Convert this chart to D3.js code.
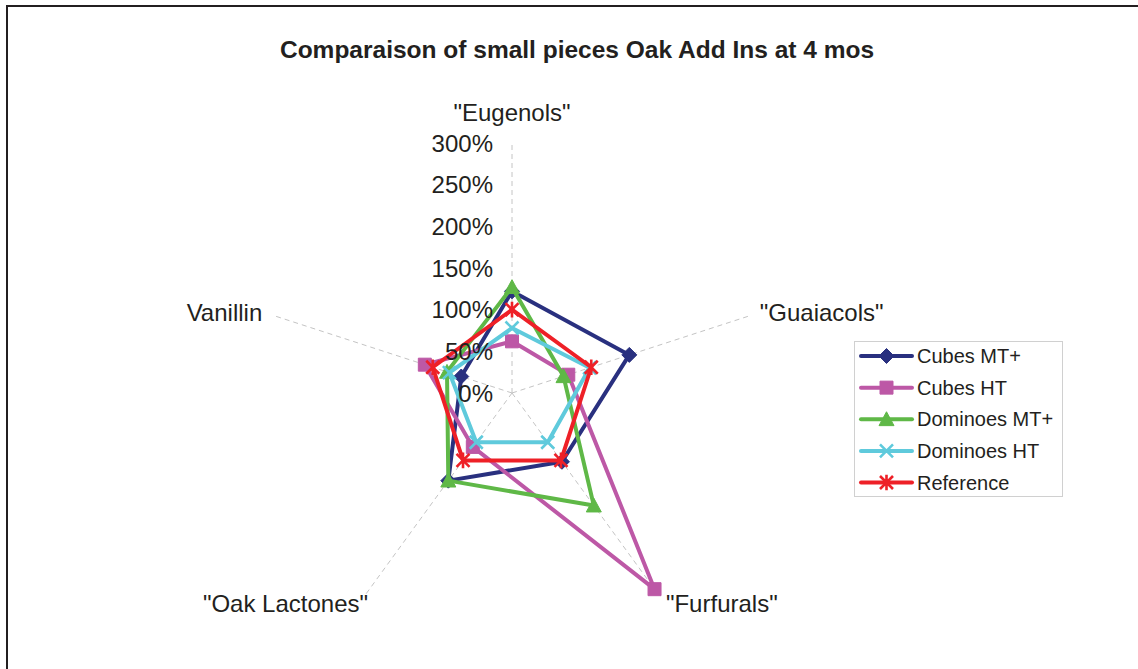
<!DOCTYPE html>
<html>
<head>
<meta charset="utf-8">
<script src="https://cdn.jsdelivr.net/npm/d3@7"></script>
<style>
  body { margin: 0; background: #fff; }
  svg { display: block; font-family: "Liberation Sans", Arial, sans-serif; }
</style>
</head>
<body>
<svg width="1138" height="669"></svg>
<script>
'use strict';

// data (1 = 100%)
const categories = ['"Eugenols"', '"Guaiacols"', '"Furfurals"', '"Oak Lactones"', 'Vanillin'];
const seriesNames = ["Cubes MT+", "Cubes HT", "Dominoes MT+", "Dominoes HT", "Reference"];
const cubesMT = [1.22, 1.48, 1.02, 1.30, 0.64];
const cubesHT = [0.62, 0.71, 2.91, 0.80, 1.10];
const dominoesMT = [1.27, 0.65, 1.67, 1.30, 0.82];
const dominoesHT = [0.78, 0.98, 0.73, 0.73, 0.79];
const reference = [1.00, 1.00, 1.00, 1.00, 1.00];
const tickValues = [0, 0.5, 1, 1.5, 2, 2.5, 3];

const seriesValues = [cubesMT, cubesHT, dominoesMT, dominoesHT, reference];
const colors = ["#29307f", "#bd58a6", "#5fb847", "#5fcadc", "#ee2027"];
const markers = ["diamond", "square", "triangle", "x", "star"];

const W = 1138, H = 669;
const cx = 512, cy = 393, R = 250;

const svg = d3.select("svg");

// frame (only left and top edges visible)
svg.append("line").attr("x1", 7).attr("y1", 5).attr("x2", 7).attr("y2", H)
  .attr("stroke", "#231f20").attr("stroke-width", 2);
svg.append("line").attr("x1", 6).attr("y1", 6).attr("x2", W).attr("y2", 6)
  .attr("stroke", "#231f20").attr("stroke-width", 2);

// title
svg.append("text")
  .attr("x", 577).attr("y", 58)
  .attr("text-anchor", "middle")
  .style("font-size", "24.5px")
  .style("font-weight", "bold")
  .attr("fill", "#231f20")
  .text("Comparaison of small pieces Oak Add Ins at 4 mos");

const r = d3.scaleLinear().domain([0, 3]).range([0, R]);
const angle = d3.scaleLinear().domain([0, categories.length]).range([-Math.PI / 2, 1.5 * Math.PI]);

const pt = (i, v) => [cx + r(v) * Math.cos(angle(i)), cy + r(v) * Math.sin(angle(i))];

const g = svg.append("g");

// spokes
g.selectAll(".spoke")
  .data(categories)
  .enter()
  .append("line")
  .attr("x1", cx).attr("y1", cy)
  .attr("x2", (d, i) => pt(i, 3)[0])
  .attr("y2", (d, i) => pt(i, 3)[1])
  .attr("stroke", "#c4c4c4")
  .attr("stroke-width", 1)
  .attr("stroke-dasharray", "5,4");

// marker shapes
function markerPath(type, s) {
  switch (type) {
    case "diamond": return `M0,${-s}L${s},0L0,${s}L${-s},0Z`;
    case "square": return `M${-s},${-s}H${s}V${s}H${-s}Z`;
    case "triangle": return `M0,${-s}L${s},${s * 0.85}L${-s},${s * 0.85}Z`;
    case "x": return `M${-s},${-s}L${s},${s}M${s},${-s}L${-s},${s}`;
    case "star": return `M${-s},${-s}L${s},${s}M${s},${-s}L${-s},${s}M0,${-s * 1.2}V${s * 1.2}`;
  }
}
const markerSize = { diamond: 7.5, square: 6.5, triangle: 7.5, x: 6.5, star: 6.5 };
const stroked = t => t === "x" || t === "star";

function drawMarker(sel, type, color) {
  sel.append("path")
    .attr("d", markerPath(type, markerSize[type]))
    .attr("fill", stroked(type) ? "none" : color)
    .attr("stroke", color)
    .attr("stroke-width", stroked(type) ? 2.6 : 1);
}

const line = d3.line().curve(d3.curveLinearClosed);

seriesValues.forEach((vals, s) => {
  const pts = vals.map((v, i) => pt(i, v));
  g.append("path")
    .attr("d", line(pts))
    .attr("fill", "none")
    .attr("stroke", colors[s])
    .attr("stroke-width", 4)
    .attr("stroke-linejoin", "round");
  pts.forEach(p => {
    const m = g.append("g").attr("transform", `translate(${p[0]},${p[1]})`);
    drawMarker(m, markers[s], colors[s]);
  });
});

// radial tick labels
svg.selectAll(".tick")
  .data(tickValues)
  .enter()
  .append("text")
  .attr("x", cx - 19)
  .attr("y", d => cy - r(d))
  .attr("dy", "0.36em")
  .attr("text-anchor", "end")
  .style("font-size", "24px")
  .attr("fill", "#231f20")
  .text(d => d3.format(".0%")(d));

// category labels
svg.selectAll(".cat")
  .data(categories)
  .enter()
  .append("text")
  .each(function(d, i) {
    const a = angle(i);
    const [ex, ey] = pt(i, 3);
    const c = Math.cos(a), s = Math.sin(a);
    const t = d3.select(this);
    if (Math.abs(c) < 0.1) {
      t.attr("x", ex).attr("y", ey - 22).attr("text-anchor", "middle");
    } else {
      // lower labels sit closer to the spoke end than the upper ones
      const off = s > 0 ? (c > 0 ? 7 : 3) : (c > 0 ? 10 : -12);
      t.attr("x", ex + off)
        .attr("y", ey + s * 10)
        .attr("dy", "0.36em")
        .attr("text-anchor", c > 0 ? "start" : "end");
    }
  })
  .style("font-size", "24px")
  .attr("fill", "#231f20")
  .text(d => d);

// legend
const legend = svg.append("g");
legend.append("rect")
  .attr("x", 854.5).attr("y", 341.5)
  .attr("width", 208).attr("height", 155)
  .attr("fill", "#fff")
  .attr("stroke", "#d0d0d0");

const rowY = d3.scalePoint().domain(seriesNames).range([356, 482.5]);

const item = legend.selectAll(".item")
  .data(seriesNames)
  .enter()
  .append("g")
  .attr("transform", d => `translate(0,${rowY(d)})`);

item.append("line")
  .attr("x1", 861).attr("x2", 912)
  .attr("stroke", (d, i) => colors[i])
  .attr("stroke-width", 4)
  .attr("stroke-linecap", "round");

item.each(function(d, i) {
  const m = d3.select(this).append("g").attr("transform", "translate(886.5,0)");
  drawMarker(m, markers[i], colors[i]);
});

item.append("text")
  .attr("x", 917)
  .attr("dy", "0.36em")
  .style("font-size", "20px")
  .attr("fill", "#231f20")
  .text(d => d);
</script>
</body>
</html>
